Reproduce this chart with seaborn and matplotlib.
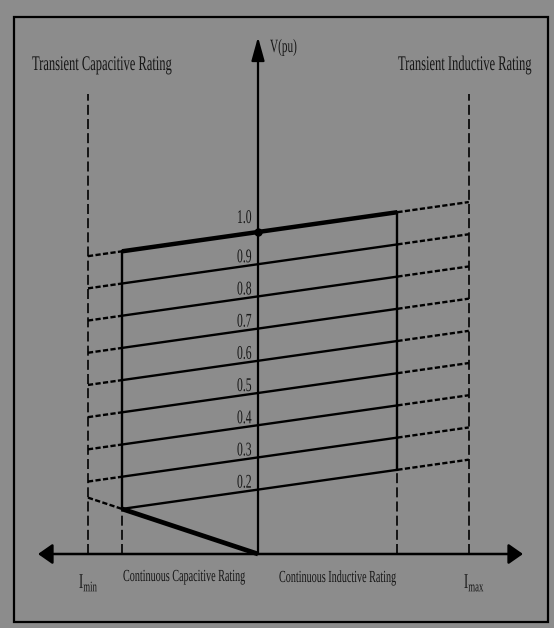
import numpy as np
import pandas as pd
import matplotlib
matplotlib.use("Agg")
import matplotlib.pyplot as plt
import seaborn as sns
from matplotlib.patches import Rectangle
from matplotlib.patheffects import AbstractPathEffect
from matplotlib.transforms import Affine2D

# Reference voltages of the control characteristics (pu at zero current)
levels = [1.0, 0.9, 0.8, 0.7, 0.6, 0.5, 0.4, 0.3, 0.2]
level_labels = ["1.0", "0.9", "0.8", "0.7", "0.6", "0.5", "0.4", "0.3", "0.2"]
slope = 0.075            # droop of each characteristic (pu V per pu I)

# Current limits (pu)
i_min, i_cap, i_ind, i_max = -1.0, -0.8, 0.82, 1.24
transient_top = 1.43     # upper end of the transient rating limits

sns.set_style("white")
plt.rcParams["font.family"] = ["Liberation Serif", "DejaVu Serif"]
plt.rcParams["mathtext.fontset"] = "custom"
plt.rcParams["mathtext.rm"] = "Liberation Serif"

BG = "#8c8c8c"
INK = "black"
TXT = "#161616"
SY = 1.0 / 0.6           # vertical stretch of the tall, narrow lettering

# pixel-like helpers for placing annotations on the 554x628 canvas
PX_I, PX_V, X0, Y0 = 170.0, 322.0, 258.0, 554.0


def px_i(x):
    return (x - X0) / PX_I


def px_v(y):
    return (Y0 - y) / PX_V


class Tall(AbstractPathEffect):
    """Stretch glyphs vertically about their baseline."""

    def __init__(self, sy=SY):
        super().__init__()
        self.sy = sy

    def draw_path(self, renderer, gc, tpath, affine, rgbFace=None):
        renderer.draw_path(gc, tpath, Affine2D().scale(1.0, self.sy) + affine,
                           rgbFace)


tall = [Tall()]

fig = plt.figure(figsize=(5.54, 6.28), dpi=100, facecolor=BG)
ax = fig.add_axes([0, 0, 1, 1])
ax.set_facecolor(BG)
ax.set_xlim(px_i(0), px_i(554))
ax.set_ylim(px_v(628), px_v(0))
ax.axis("off")

# frame around the diagram
fig.patches.append(Rectangle((14 / 554, 1 - 622 / 628), 534 / 554, 605 / 628,
                             transform=fig.transFigure, fill=False,
                             edgecolor=INK, lw=1.6))


def v_at(level, i):
    return level + slope * i


# solid part of each characteristic, inside the continuous rating
rows = []
for lv in levels:
    for i in (i_cap, i_ind):
        rows.append({"I": i, "V": v_at(lv, i), "level": lv})
solid = pd.DataFrame(rows)
sns.lineplot(data=solid, x="I", y="V", units="level", estimator=None,
             color=INK, lw=1.7, ax=ax, legend=False)
top = solid[solid["level"] == levels[0]]
ax.plot(top["I"], top["V"], color=INK, lw=3.2, solid_capstyle="butt")

dash_short = (0, (2.2, 1.0))
# dashed extensions into the transient ranges
for lv in levels[:-1]:
    ax.plot([i_min, i_cap], [v_at(lv, i_min), v_at(lv, i_cap)],
            color=INK, lw=1.7, linestyle=dash_short)
for lv in levels:
    ax.plot([i_ind, i_max], [v_at(lv, i_ind), v_at(lv, i_max)],
            color=INK, lw=1.7, linestyle=dash_short)

# low-voltage capacitive limit through the origin
v_corner = v_at(levels[-1], i_cap)
ratio = v_corner / i_cap
ax.plot([i_cap, 0], [v_corner, 0], color=INK, lw=3.4, solid_capstyle="butt")
ax.plot([i_min, i_cap], [ratio * i_min, v_corner], color=INK, lw=1.7,
        linestyle=dash_short)

# rating limits
dash_long = (0, (6.0, 2.5))
ax.plot([i_min, i_min], [0, transient_top], color=INK, lw=1.2, linestyle=dash_long)
ax.plot([i_max, i_max], [0, transient_top], color=INK, lw=1.2, linestyle=dash_long)
ax.plot([i_cap, i_cap], [v_corner, v_at(levels[0], i_cap)], color=INK, lw=1.7)
ax.plot([i_cap, i_cap], [0, v_corner], color=INK, lw=1.2, linestyle=dash_long)
v_ind_low = v_at(levels[-1], i_ind)
ax.plot([i_ind, i_ind], [v_ind_low, v_at(levels[0], i_ind)], color=INK, lw=1.7)
ax.plot([i_ind, i_ind], [0, v_ind_low], color=INK, lw=1.2, linestyle=dash_long)

# axes with arrows
ax.annotate("", xy=(0, px_v(37)), xytext=(0, 0),
            arrowprops=dict(arrowstyle="-|>,head_length=0.65,head_width=0.18",
                            color=INK, lw=1.6, mutation_scale=22,
                            shrinkA=0, shrinkB=0))
ax.annotate("", xy=(px_i(523), 0), xytext=(px_i(38), 0),
            arrowprops=dict(arrowstyle="<|-|>,head_length=0.4,head_width=0.28",
                            color=INK, lw=1.8, mutation_scale=22,
                            shrinkA=0, shrinkB=0))
ax.plot([0], [levels[0]], "o", color=INK, ms=5)

# level labels just above each characteristic on the vertical axis
for lv, lab in zip(levels, level_labels):
    lift = 0.028 if lv == levels[0] else 0.006
    ax.text(px_i(237), lv + lift, lab, ha="left", va="baseline",
            fontsize=8.4, color=TXT, path_effects=tall)

labels = [
    ("Transient Capacitive Rating", 32, 70, 9.0),
    ("Transient Inductive Rating", 398, 70, 9.0),
    ("V(pu)", 270, 52, 8.1),
    ("Continuous Capacitive Rating", 123, 581, 7.3),
    ("Continuous Inductive Rating", 279, 582, 7.3),
    (r"I$_{\mathregular{min}}$", 79, 588, 9.0),
    (r"I$_{\mathregular{max}}$", 464, 588, 9.0),
]
for text, x, y, size in labels:
    ax.text(px_i(x), px_v(y), text, ha="left", va="baseline",
            fontsize=size, color=TXT, path_effects=tall)

fig.savefig("out.png", dpi=100, facecolor=BG)
